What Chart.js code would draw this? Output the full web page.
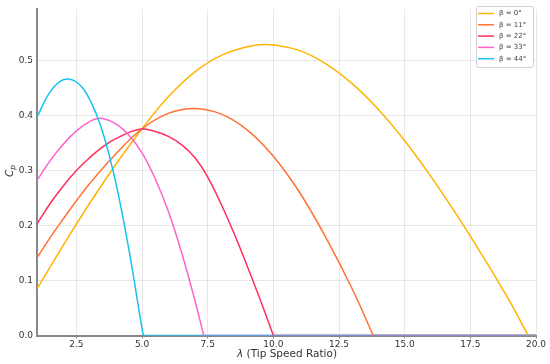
<!DOCTYPE html>
<html>
<head>
<meta charset="utf-8">
<script src="https://cdn.jsdelivr.net/npm/chart.js@4"></script>
<style>
  html, body { margin: 0; padding: 0; background: #fff; }
</style>
</head>
<body>
<canvas id="grafico" width="550" height="364"></canvas>
<script>
// Dados (lambda, Cp) para cada ângulo beta
const lambda0 = [1, 2, 3, 4, 5, 6, 7, 8, 9, 9.8, 11, 12, 13, 14, 15, 16, 17, 18, 19, 19.7, 20];
const cp0     = [0.085, 0.164, 0.240, 0.311, 0.376, 0.434, 0.479, 0.509, 0.525, 0.529, 0.518, 0.494, 0.458, 0.411, 0.354, 0.289, 0.218, 0.142, 0.062, 0, 0];

const lambda11 = [1, 1.5, 2, 2.5, 3, 4, 5, 6, 7, 8, 9, 10, 11, 12, 13, 13.8, 20];
const cp11     = [0.141, 0.178, 0.212, 0.245, 0.276, 0.330, 0.376, 0.404, 0.413, 0.403, 0.374, 0.326, 0.260, 0.178, 0.085, 0, 0];

const lambda22 = [1, 1.5, 2, 2.5, 3, 3.5, 4, 4.9, 5.5, 6, 6.5, 7, 7.5, 8, 8.5, 9, 9.5, 10, 20];
const cp22     = [0.203, 0.240, 0.272, 0.300, 0.323, 0.343, 0.358, 0.375, 0.371, 0.362, 0.347, 0.324, 0.288, 0.240, 0.186, 0.127, 0.065, 0, 0];

const lambda33 = [1, 1.5, 2, 2.5, 3, 3.4, 4, 4.5, 5, 5.5, 6, 6.5, 7, 7.35, 20];
const cp33     = [0.282, 0.318, 0.348, 0.372, 0.389, 0.395, 0.385, 0.364, 0.332, 0.285, 0.226, 0.152, 0.066, 0, 0];

const lambda44 = [1, 1.5, 2, 2.5, 3, 3.5, 4, 4.5, 5, 5.05, 20];
const cp44     = [0.397, 0.443, 0.465, 0.461, 0.430, 0.370, 0.278, 0.156, 0.012, 0, 0];

const betaLabels = ["β = 0°", "β = 11°", "β = 22°", "β = 33°", "β = 44°"];
const lambdaTicks = [2.5, 5, 7.5, 10, 12.5, 15, 17.5, 20];
const cpTicks = [0, 0.1, 0.2, 0.3, 0.4, 0.5];

const cores = ["#ffb400", "#ff7033", "#ff2e5e", "#ff62cc", "#17c2f2"];
const fonte = "'DejaVu Sans', sans-serif";

// Monta os datasets: parte curva + trecho em zero (Cp recortado)
const series = [[lambda0, cp0], [lambda11, cp11], [lambda22, cp22], [lambda33, cp33], [lambda44, cp44]];
const datasets = [];
series.forEach(([xs, ys], i) => {
    const pontos = xs.map((x, k) => ({ x: x, y: ys[k] }));
    const corte = ys.indexOf(0);
    datasets.push({
        label: betaLabels[i],
        data: pontos.slice(0, corte + 1),
        borderColor: cores[i],
        borderWidth: 1.5,
        pointRadius: 0,
        tension: 0.4,
        order: 4 - i
    });
    datasets.push({
        label: "",
        data: pontos.slice(corte),
        borderColor: cores[i],
        borderWidth: 1.5,
        pointRadius: 0,
        order: 9 - i
    });
});

// Títulos dos eixos e legenda desenhados à mão
const extras = {
    id: "extras",
    afterDraw(chart) {
        const ctx = chart.ctx;
        ctx.save();
        ctx.fillStyle = "#333";
        ctx.textBaseline = "middle";

        // eixo x: "λ (Tip Speed Ratio)"
        ctx.font = "italic 10.5px " + fonte;
        const wL = ctx.measureText("λ").width;
        ctx.font = "10.5px " + fonte;
        const resto = " (Tip Speed Ratio)";
        const wR = ctx.measureText(resto).width;
        let x0 = 287 - (wL + wR) / 2;
        ctx.font = "italic 10.5px " + fonte;
        ctx.textAlign = "left";
        ctx.fillText("λ", x0, 354);
        ctx.font = "10.5px " + fonte;
        ctx.fillText(resto, x0 + wL, 354);

        // eixo y: C_p
        ctx.save();
        ctx.translate(10, 171);
        ctx.rotate(-Math.PI / 2);
        ctx.font = "italic 10.5px " + fonte;
        const wC = ctx.measureText("C").width;
        ctx.font = "italic 7.5px " + fonte;
        const wP = ctx.measureText("p").width;
        ctx.font = "italic 10.5px " + fonte;
        ctx.fillText("C", -(wC + wP) / 2, 0);
        ctx.font = "italic 7.5px " + fonte;
        ctx.fillText("p", -(wC + wP) / 2 + wC, 3);
        ctx.restore();

        // legenda
        const bx = 476, by = 6, bw = 57, bh = 61;
        ctx.fillStyle = "rgba(255,255,255,0.85)";
        ctx.strokeStyle = "#d0d0d0";
        ctx.lineWidth = 1;
        ctx.beginPath();
        ctx.roundRect(bx + 0.5, by + 0.5, bw, bh, 2);
        ctx.fill();
        ctx.stroke();
        ctx.font = "7px " + fonte;
        betaLabels.forEach((txt, i) => {
            const y = 13.5 + i * 11.3;
            ctx.strokeStyle = cores[i];
            ctx.lineWidth = 1.5;
            ctx.beginPath();
            ctx.moveTo(478, y);
            ctx.lineTo(494, y);
            ctx.stroke();
            ctx.fillStyle = "#444";
            ctx.fillText(txt, 499, y);
        });
        ctx.restore();
    }
};

const grade = { color: "rgba(0,0,0,0.09)", lineWidth: 1, borderDash: [1, 1.5] };

new Chart(document.getElementById("grafico").getContext("2d"), {
    type: "line",
    data: { datasets: datasets },
    options: {
        responsive: false,
        animation: false,
        layout: { padding: { left: 0, right: 14, top: 8, bottom: 0 } },
        plugins: { legend: { display: false }, tooltip: { enabled: false } },
        scales: {
            x: {
                type: "linear",
                min: 1,
                max: 20,
                afterBuildTicks: (s) => { s.ticks = lambdaTicks.map(v => ({ value: v })); },
                afterFit: (s) => { s.height = 28.5; },
                grid: { ...grade, drawTicks: true, tickLength: 3, tickColor: "#888", tickBorderDash: [] },
                border: { color: "#888", width: 2 },
                ticks: { color: "#333", padding: 1, maxRotation: 0, font: { family: fonte, size: 9 }, callback: (v) => Number(v).toFixed(1) }
            },
            y: {
                min: 0,
                max: 0.593,
                afterBuildTicks: (s) => { s.ticks = cpTicks.map(v => ({ value: v })); },
                afterFit: (s) => { s.width = 37; },
                grid: { ...grade, drawTicks: false },
                border: { color: "#888", width: 2 },
                ticks: { color: "#333", padding: 4, font: { family: fonte, size: 9 }, callback: (v) => Number(v).toFixed(1) }
            }
        }
    },
    plugins: [extras]
});
</script>
</body>
</html>
